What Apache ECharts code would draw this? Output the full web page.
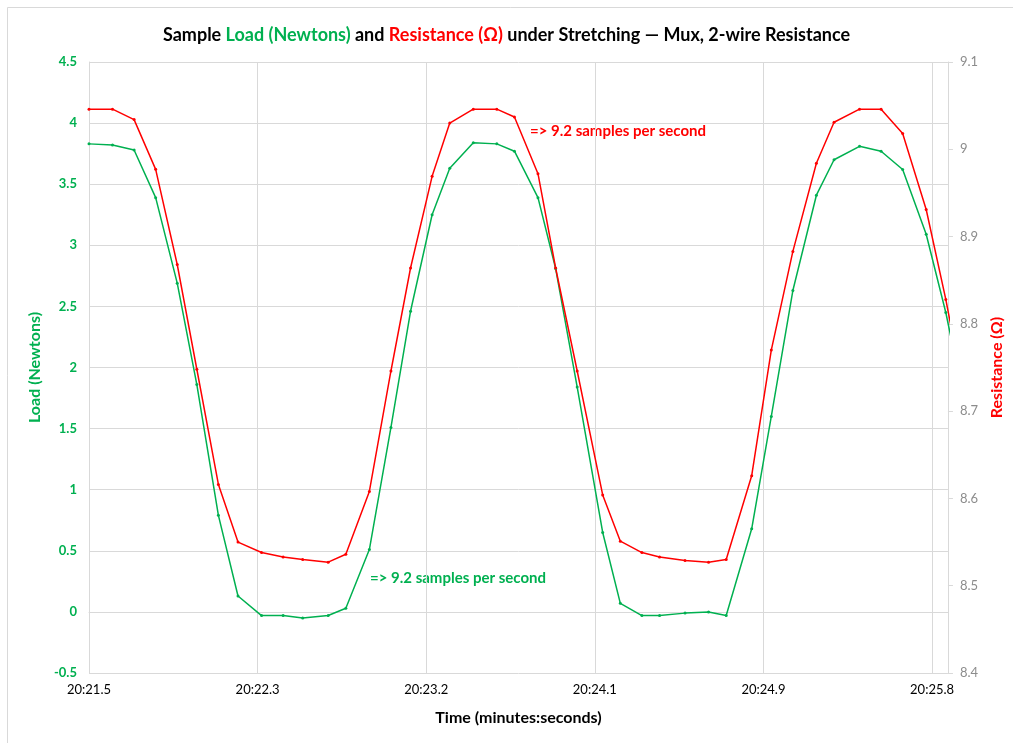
<!DOCTYPE html>
<html>
<head>
<meta charset="utf-8">
<script src="https://cdn.jsdelivr.net/npm/echarts@6/dist/echarts.min.js"></script>
<style>
  html, body { margin: 0; padding: 0; background: #fff; }
  #chart { width: 1013px; height: 743px; }
</style>
</head>
<body>
<div id="chart"></div>
<script>
// Time axis: seconds past 20:00 (mm:ss.s), first major tick and tick spacing
const AXIS_START = 21.47;
const TICK_STEP = 0.86;
const AXIS_END = 25.851;
const tickLabels = ['20:21.5', '20:22.3', '20:23.2', '20:24.1', '20:24.9', '20:25.8'];

// Sample timestamps (seconds past 20:00)
const sampleTime = [
  21.47, 21.59, 21.70, 21.81, 21.92, 22.02, 22.13, 22.23, 22.35, 22.46,
  22.56, 22.69, 22.78, 22.90, 23.01, 23.11, 23.22, 23.31, 23.43, 23.55,
  23.64, 23.76, 23.85, 23.96, 24.09, 24.18, 24.29, 24.38, 24.51, 24.63,
  24.72, 24.85, 24.95, 25.06, 25.18, 25.27, 25.40, 25.51, 25.62, 25.74,
  25.84, 25.95
];

// Load cell reading (N)
const loadNewtons = [
  3.83, 3.82, 3.78, 3.39, 2.69, 1.86, 0.79, 0.13, -0.03, -0.03,
  -0.05, -0.03, 0.03, 0.51, 1.51, 2.46, 3.25, 3.63, 3.84, 3.83,
  3.77, 3.39, 2.81, 1.84, 0.65, 0.07, -0.03, -0.03, -0.01, 0.00,
  -0.03, 0.68, 1.60, 2.63, 3.41, 3.70, 3.81, 3.77, 3.62, 3.09,
  2.45, 1.60
];

// 2-wire resistance through the mux (Ω)
const resistanceOhms = [
  9.046, 9.046, 9.034, 8.977, 8.868, 8.748, 8.616, 8.550, 8.538, 8.533,
  8.530, 8.527, 8.536, 8.608, 8.746, 8.864, 8.969, 9.030, 9.046, 9.046,
  9.037, 8.972, 8.864, 8.746, 8.604, 8.551, 8.538, 8.533, 8.529, 8.527,
  8.530, 8.626, 8.770, 8.883, 8.984, 9.031, 9.046, 9.046, 9.018, 8.931,
  8.828, 8.700
];

const GREEN = '#00B050';
const RED = '#FF0000';
const GRID = '#D9D9D9';
const FONT = 'Lato, "Open Sans", sans-serif';

const toPoints = (vals) => sampleTime.map((t, i) => [+(t - AXIS_START).toFixed(4), vals[i]]);

const chart = echarts.init(document.getElementById('chart'), null, { renderer: 'canvas' });

chart.setOption({
  backgroundColor: '#fff',
  animation: false,
  textStyle: { fontFamily: FONT },
  title: {
    left: 'center',
    top: 21,
    text: '{b|Sample }{g|Load (Newtons)}{b| and }{r|Resistance (Ω)}{b| under Stretching — Mux, 2-wire Resistance}',
    textStyle: {
      rich: {
        b: { color: '#000', fontSize: 18, fontWeight: 'bold', fontFamily: FONT },
        g: { color: GREEN, fontSize: 18, fontWeight: 'bold', fontFamily: FONT },
        r: { color: RED, fontSize: 18, fontWeight: 'bold', fontFamily: FONT }
      }
    }
  },
  grid: { left: 89, right: 64, top: 62, bottom: 70, containLabel: false },
  xAxis: {
    type: 'value',
    min: 0,
    max: +(AXIS_END - AXIS_START).toFixed(4),
    interval: TICK_STEP,
    name: 'Time (minutes:seconds)',
    nameLocation: 'middle',
    nameGap: 37,
    nameTextStyle: { color: '#000', fontSize: 16, fontWeight: 'bold', fontFamily: FONT },
    axisLine: { show: true, lineStyle: { color: GRID, width: 1 } },
    axisTick: { show: false },
    splitLine: { show: true, lineStyle: { color: GRID, width: 1 } },
    axisLabel: {
      color: '#000',
      fontSize: 13,
      margin: 10,
      showMaxLabel: false,
      formatter: (v) => {
        const k = Math.round(v / TICK_STEP);
        return Math.abs(v - k * TICK_STEP) < 1e-6 && k < tickLabels.length ? tickLabels[k] : '';
      }
    }
  },
  yAxis: [
    {
      type: 'value',
      min: -0.5,
      max: 4.5,
      interval: 0.5,
      position: 'left',
      name: 'Load (Newtons)',
      nameLocation: 'middle',
      nameGap: 43,
      nameTextStyle: { color: GREEN, fontSize: 16, fontWeight: 'bold', fontFamily: FONT },
      axisLine: { show: true, lineStyle: { color: GRID, width: 1 } },
      axisTick: { show: false },
      splitLine: { show: true, lineStyle: { color: GRID, width: 1 } },
      axisLabel: { color: GREEN, fontSize: 13, fontWeight: 'bold', margin: 12 }
    },
    {
      type: 'value',
      min: 8.4,
      max: 9.1,
      interval: 0.1,
      position: 'right',
      name: 'Resistance (Ω)',
      nameLocation: 'middle',
      nameGap: 40,
      nameTextStyle: { color: RED, fontSize: 16, fontWeight: 'bold', fontFamily: FONT },
      axisLine: { show: true, lineStyle: { color: GRID, width: 1 } },
      axisTick: { show: true, length: 5, lineStyle: { color: GRID } },
      splitLine: { show: false },
      axisLabel: { color: '#8C8C8C', fontSize: 13, margin: 12 }
    }
  ],
  series: [
    {
      name: 'Load',
      type: 'line',
      yAxisIndex: 0,
      data: toPoints(loadNewtons),
      symbol: 'circle',
      symbolSize: 3,
      clip: true,
      lineStyle: { color: GREEN, width: 1.5 },
      itemStyle: { color: GREEN }
    },
    {
      name: 'Resistance',
      type: 'line',
      yAxisIndex: 1,
      data: toPoints(resistanceOhms),
      symbol: 'circle',
      symbolSize: 3,
      clip: true,
      lineStyle: { color: RED, width: 1.5 },
      itemStyle: { color: RED }
    }
  ],
  graphic: [
    {
      type: 'rect',
      silent: true,
      shape: { x: 7.5, y: 7.5, width: 1020, height: 760 },
      style: { fill: 'none', stroke: GRID, lineWidth: 1 }
    },
    {
      type: 'text',
      left: 530,
      top: 124,
      style: { text: '=> 9.2 samples per second', fill: RED, font: 'bold 15px ' + FONT }
    },
    {
      type: 'text',
      left: 370,
      top: 571,
      style: { text: '=> 9.2 samples per second', fill: GREEN, font: 'bold 15px ' + FONT }
    }
  ]
});
</script>
</body>
</html>
